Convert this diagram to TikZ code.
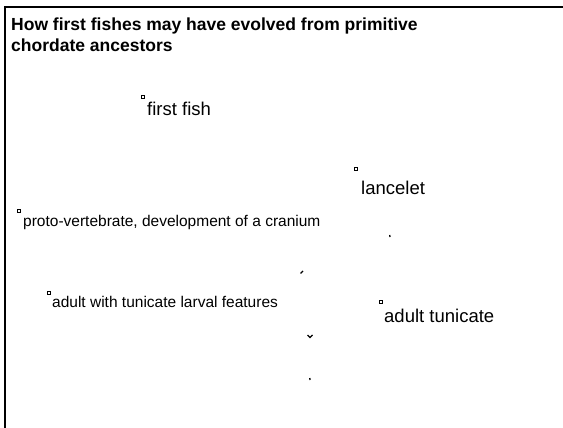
\documentclass[tikz,border=0pt]{standalone}
\usepackage{fontspec}
\setmainfont{Liberation Sans}
\usetikzlibrary{arrows, positioning}

\begin{document}
\begin{tikzpicture}[x=1pt, y=-1pt]

\useasboundingbox (0,0) rectangle (563,428);

% Define block styles
\tikzstyle{marker} = [rectangle, draw=black, line width=0.5pt, minimum size=3pt, inner sep=0pt]
\tikzstyle{biglabel} = [anchor=base west, inner sep=0pt, font=\fontsize{18.5}{22}\selectfont]
\tikzstyle{smalllabel} = [anchor=base west, inner sep=0pt, font=\fontsize{15.5}{18}\selectfont]
\tikzstyle{heading} = [anchor=north west, inner sep=0pt, align=left, font=\fontsize{17.5}{21}\selectfont\bfseries]
\tikzstyle{stub} = [line width=1.3pt]

% Frame
\draw [line width=2.5pt] (563,7) -- (5,7) -- (5,428);

% Title
\node (title) [heading] at (11,18) {How first fishes may have evolved from primitive\\chordate ancestors};

% Markers
\node (fishbox) [marker] at (143,97) {};
\node (lanceletbox) [marker] at (356,169) {};
\node (protobox) [marker] at (19,211) {};
\node (larvalbox) [marker] at (49,293) {};
\node (tunicatebox) [marker] at (381,302) {};

% Labels
\node (fish) [biglabel] at ([shift={(4,19)}]fishbox.center) {first fish};
\node (lancelet) [biglabel] at ([shift={(5,25)}]lanceletbox.center) {lancelet};
\node (proto) [smalllabel] at ([shift={(4,15)}]protobox.center) {proto-vertebrate, development of a cranium};
\node (larval) [smalllabel] at ([shift={(3,14)}]larvalbox.center) {adult with tunicate larval features};
\node (tunicate) [biglabel] at ([shift={(3,20)}]tunicatebox.center) {adult tunicate};

% Arrow stubs
\coordinate (stubAa) at (389.7,235);
\coordinate (stubAb) at (390,237);
\coordinate (stubBa) at (300.5,273.5);
\coordinate (stubBb) at (303,271);
\coordinate (stubCa) at (307.5,335);
\coordinate (stubCb) at (310,337.5);
\coordinate (stubCc) at (312.5,335);
\coordinate (stubDa) at (309.8,378);
\coordinate (stubDb) at (310,380);

\draw [stub] (stubAa) -- (stubAb);
\draw [stub] (stubBa) -- (stubBb);
\draw [stub] (stubCa) -- (stubCb) -- (stubCc);
\draw [stub] (stubDa) -- (stubDb);

\end{tikzpicture}
\end{document}
